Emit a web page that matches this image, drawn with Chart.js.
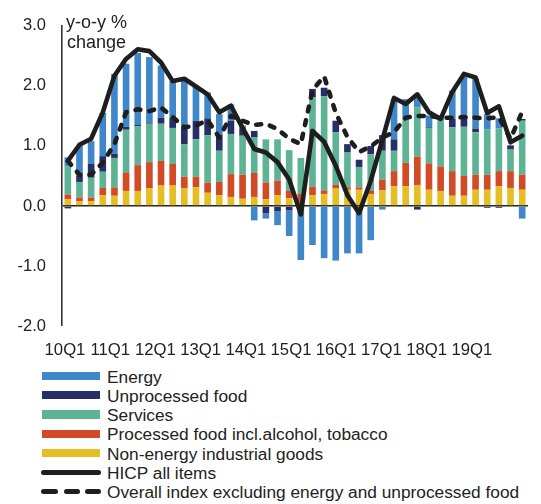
<!DOCTYPE html>
<html>
<head>
<meta charset="utf-8">
<script src="https://cdn.jsdelivr.net/npm/chart.js@4/dist/chart.umd.min.js"></script>
<style>
html,body{margin:0;padding:0;background:#fff;}
#wrap{position:relative;width:541px;height:504px;overflow:hidden;font-family:"Liberation Sans",Arial,sans-serif;color:#222;}
#c{position:absolute;left:0;top:0;}
.row{position:absolute;left:0;width:541px;height:19.3px;}
.txt{position:absolute;left:107px;top:0;line-height:19.3px;font-size:17.3px;white-space:nowrap;}
.sw{position:absolute;}
</style>
</head>
<body>
<div id="wrap">
<canvas id="c" width="541" height="362"></canvas>
<div id="legend"></div>
</div>
<script>
// ---- data ----
const quarters = ['10Q1','10Q2','10Q3','10Q4','11Q1','11Q2','11Q3','11Q4','12Q1','12Q2','12Q3','12Q4',
  '13Q1','13Q2','13Q3','13Q4','14Q1','14Q2','14Q3','14Q4','15Q1','15Q2','15Q3','15Q4',
  '16Q1','16Q2','16Q3','16Q4','17Q1','17Q2','17Q3','17Q4','18Q1','18Q2','18Q3','18Q4',
  '19Q1','19Q2','19Q3','19Q4'];
const xTickLabels = ['10Q1','11Q1','12Q1','13Q1','14Q1','15Q1','16Q1','17Q1','18Q1','19Q1'];
const yTitle = ['y-o-y %','change'];

const neig   = [0.11,0.08,0.08,0.18,0.17,0.25,0.25,0.29,0.34,0.34, 0.30,0.31,0.22,0.18,0.15,0.12,0.15,0.11,0.18,0.13,
                0.05,0.18,0.20,0.29,0.27,0.27,0.20,0.26,0.33,0.33, 0.35,0.27,0.25,0.17,0.17,0.27,0.27,0.33,0.30,0.27];
const proc   = [0.08,0.06,0.06,0.12,0.14,0.31,0.43,0.44,0.41,0.36, 0.19,0.18,0.17,0.22,0.38,0.40,0.40,0.28,0.24,0.12,
                0.15,0.14,0.06,0.06,0.04,0.04,0.06,0.18,0.25,0.39, 0.47,0.44,0.41,0.41,0.33,0.25,0.25,0.25,0.28,0.25];
const serv   = [0.47,0.26,0.33,0.27,0.49,0.71,0.65,0.64,0.62,0.60, 0.54,0.62,0.79,0.52,0.67,0.65,0.59,0.72,0.69,0.68,
                0.60,1.49,1.57,0.88,0.58,0.34,0.60,0.48,0.34,0.73, 0.82,0.58,0.77,0.73,0.82,0.71,0.76,0.71,0.36,0.90];
const unproc = [-0.04,0.10,0.23,0.26,0.07,0.05,0.02,0.02,0.10,0.17, 0.28,0.31,0.28,0.27,0.22,0.12,0.11,-0.12,-0.09,-0.07,
                0.00,0.14,0.14,0.19,0.14,0.12,0.14,0.26,0.19,0.00, -0.06,0.02,0.00,0.14,0.14,0.06,-0.03,-0.03,0.07,0.03];
const energy = [0.15,0.50,0.38,0.72,1.33,1.05,1.20,1.09,0.87,0.61, 0.79,0.57,0.43,0.34,0.27,0.05,-0.24,-0.09,-0.23,-0.43,
                -0.90,-0.65,-0.87,-0.91,-0.79,-0.79,-0.57,-0.06,0.67,0.33, 0.19,0.20,0.07,0.47,0.69,0.83,0.25,0.17,0.00,-0.21];
const hicp   = [0.75,1.02,1.12,1.56,2.17,2.45,2.61,2.58,2.39,2.08, 2.12,1.99,1.86,1.56,1.67,1.30,0.95,0.89,0.73,0.44,
                -0.14,1.25,1.07,0.67,0.18,-0.12,0.42,1.10,1.80,1.70, 1.86,1.56,1.45,1.90,2.20,2.14,1.55,1.66,1.06,1.17];
const core   = [0.75,0.52,0.52,0.72,1.03,1.56,1.61,1.58,1.64,1.48, 1.31,1.34,1.43,1.14,1.50,1.42,1.35,1.37,1.28,1.12,
                1.03,1.93,2.16,1.55,1.15,0.90,0.99,1.14,1.23,1.47, 1.50,1.50,1.47,1.47,1.48,1.47,1.46,1.48,1.12,1.57];

// ---- styles ----
const FONT = '"Liberation Sans", Arial, sans-serif';
const C_EN = '#3F87C9', C_UF = '#262F66', C_SV = '#5DB393', C_PF = '#D24B27', C_NE = '#E5BD24', C_LN = '#1E1E1E';

const titlePlugin = {
  id: 'ytitle',
  afterDraw(chart) {
    const c = chart.ctx;
    c.save();
    c.font = '18px ' + FONT;
    c.fillStyle = '#222';
    c.textBaseline = 'alphabetic';
    c.fillText(yTitle[0], 66, 28);
    c.fillText(yTitle[1], 67, 47.5);
    c.restore();
  }
};

const chart = new Chart(document.getElementById('c'), {
  data: {
    labels: quarters,
    datasets: [
      { type: 'line', label: 'HICP all items', data: hicp, stack: 'l1',
        borderColor: C_LN, borderWidth: 4.6, pointRadius: 0, tension: 0, fill: false,
        borderJoinStyle: 'round', borderCapStyle: 'round' },
      { type: 'line', label: 'Overall index excluding energy and unprocessed food', data: core, stack: 'l2',
        borderColor: C_LN, borderWidth: 4.6, pointRadius: 0, tension: 0, fill: false,
        borderDash: [5, 9], borderJoinStyle: 'round', borderCapStyle: 'round' },
      { type: 'bar', label: 'Non-energy industrial goods', data: neig, backgroundColor: C_NE, stack: 'b' },
      { type: 'bar', label: 'Processed food incl.alcohol, tobacco', data: proc, backgroundColor: C_PF, stack: 'b' },
      { type: 'bar', label: 'Services', data: serv, backgroundColor: C_SV, stack: 'b' },
      { type: 'bar', label: 'Unprocessed food', data: unproc, backgroundColor: C_UF, stack: 'b' },
      { type: 'bar', label: 'Energy', data: energy, backgroundColor: C_EN, stack: 'b' }
    ]
  },
  options: {
    responsive: false,
    animation: false,
    devicePixelRatio: 1,
    layout: { padding: { top: 25, right: 13, left: 0, bottom: 0 } },
    plugins: { legend: { display: false }, tooltip: { enabled: false } },
    datasets: { bar: { barPercentage: 0.57, categoryPercentage: 1.0 } },
    scales: {
      x: { type: 'category', stacked: true, offset: true, display: false, grid: { display: false } },
      xl: {
        type: 'linear', position: 'bottom', min: -0.066, max: 10.243,
        grid: { display: false, drawTicks: false }, border: { display: false },
        afterBuildTicks: a => { a.ticks = xTickLabels.map((_, i) => ({ value: i })); },
        afterFit: a => { a.height = 36; },
        ticks: { autoSkip: false, maxRotation: 0, minRotation: 0, padding: 14,
          font: { size: 16.7, family: FONT }, color: '#222',
          callback: v => (xTickLabels[v] !== undefined ? xTickLabels[v] : '') }
      },
      y: {
        stacked: true, min: -2, max: 3, z: 1,
        afterFit: a => { a.width = 62; },
        ticks: { stepSize: 1, padding: 16, font: { size: 16.5, family: FONT }, color: '#222',
          callback: v => Number(v).toFixed(1) },
        grid: { drawTicks: false,
          color: c => (c.tick && c.tick.value === 0 ? '#222' : 'rgba(0,0,0,0)'),
          lineWidth: c => (c.tick && c.tick.value === 0 ? 1.6 : 0) },
        border: { display: true, color: '#333', width: 1.6 }
      }
    }
  },
  plugins: [titlePlugin]
});

// ---- legend (HTML, real text) ----
const legendItems = [
  { label: 'Energy', kind: 'box', color: C_EN },
  { label: 'Unprocessed food', kind: 'box', color: C_UF },
  { label: 'Services', kind: 'box', color: C_SV },
  { label: 'Processed food incl.alcohol, tobacco', kind: 'box', color: C_PF },
  { label: 'Non-energy industrial goods', kind: 'box', color: C_NE },
  { label: 'HICP all items', kind: 'line', color: C_LN },
  { label: 'Overall index excluding energy and unprocessed food', kind: 'dash', color: C_LN }
];
const lg = document.getElementById('legend');
legendItems.forEach((it, i) => {
  const row = document.createElement('div');
  row.className = 'row';
  row.style.top = (367.5 + i * 19.3) + 'px';
  const addSw = (l, w, t, h, r) => {
    const s = document.createElement('div');
    s.className = 'sw';
    s.style.left = l + 'px'; s.style.width = w + 'px';
    s.style.top = t + 'px'; s.style.height = h + 'px';
    s.style.background = it.color;
    if (r) s.style.borderRadius = r + 'px';
    row.appendChild(s);
  };
  if (it.kind === 'box') addSw(42, 58, 4.2, 8.5, 0);
  else if (it.kind === 'line') addSw(41, 60, 5.8, 5, 2.5);
  else { addSw(41, 17, 5.8, 5, 2.5); addSw(64, 16, 5.8, 5, 2.5); addSw(85, 16, 5.8, 5, 2.5); }
  const t = document.createElement('span');
  t.className = 'txt';
  t.textContent = it.label;
  row.appendChild(t);
  lg.appendChild(row);
});
</script>
</body>
</html>
